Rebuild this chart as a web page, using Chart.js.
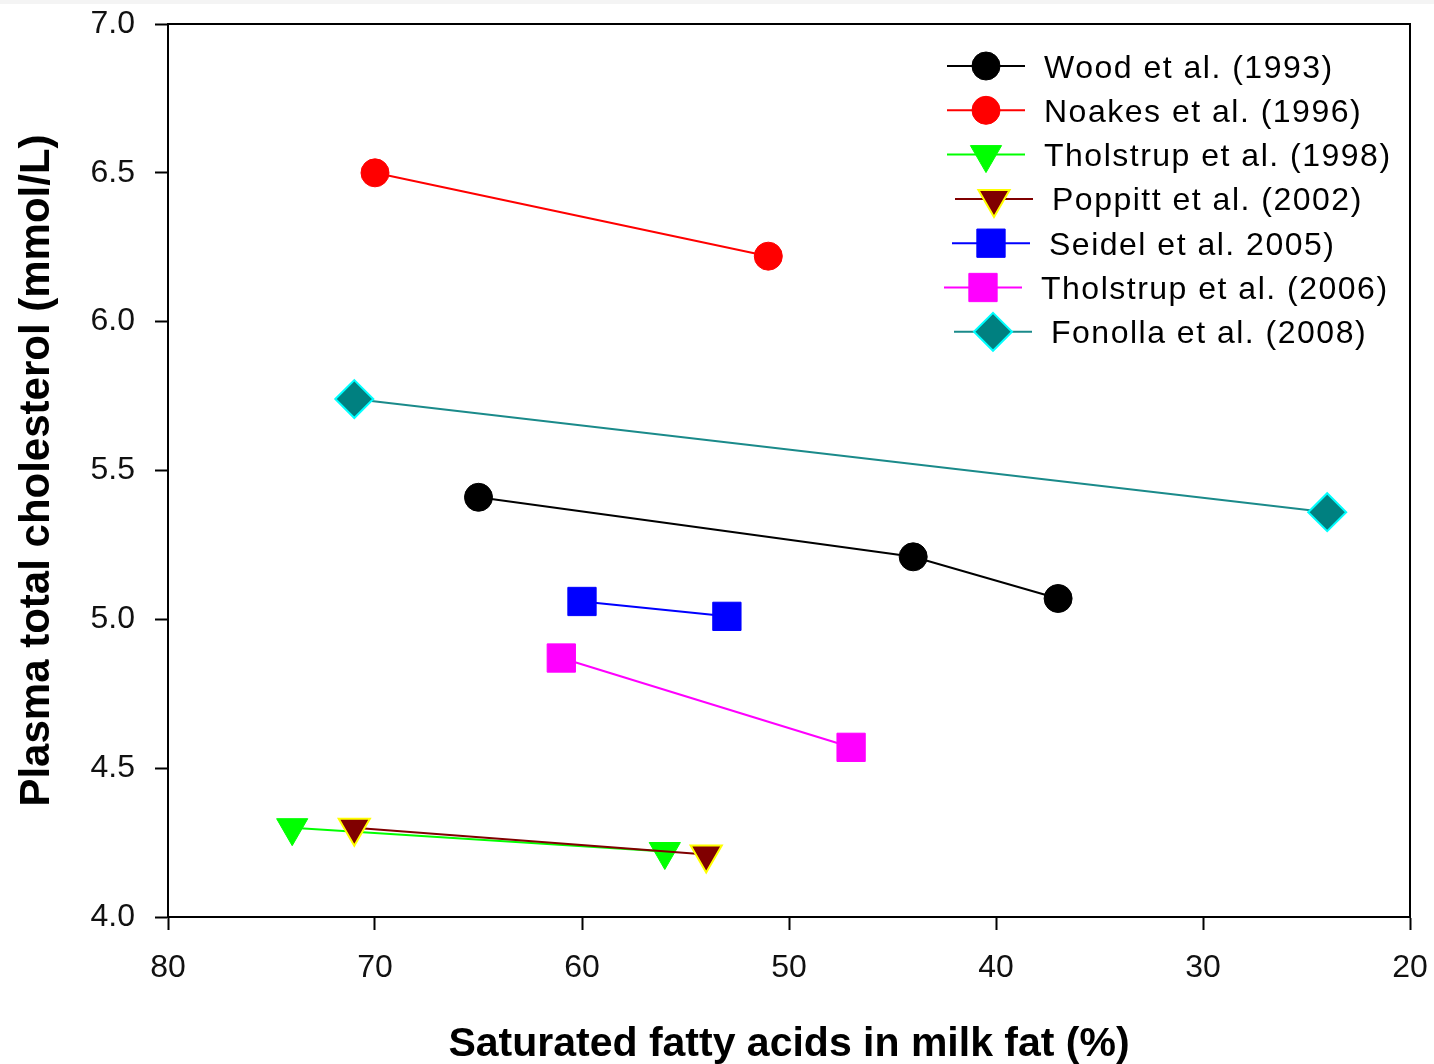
<!DOCTYPE html>
<html>
<head>
<meta charset="utf-8">
<script src="https://cdn.jsdelivr.net/npm/chart.js@4.4.1/dist/chart.umd.min.js"></script>
<style>
  body { margin: 0; background: #fff; }
</style>
</head>
<body>
<canvas id="chart" width="1434" height="1064"></canvas>
<script>
const FONT = 'Arial, "Liberation Sans", sans-serif'

const studies = [
    'Wood et al. (1993)',
    'Noakes et al. (1996)',
    'Tholstrup et al. (1998)',
    'Poppitt et al. (2002)',
    'Seidel et al. 2005)',
    'Tholstrup et al. (2006)',
    'Fonolla et al. (2008)'
]

// saturated fatty acids (%) and plasma total cholesterol (mmol/L) per study
const woodSfa = [65, 44, 37]
const woodChol = [5.41, 5.21, 5.07]
const noakesSfa = [70, 51]
const noakesChol = [6.50, 6.22]
const tholstrup98Sfa = [74, 56]
const tholstrup98Chol = [4.30, 4.22]
const poppittSfa = [71, 54]
const poppittChol = [4.30, 4.21]
const seidelSfa = [60, 53]
const seidelChol = [5.06, 5.01]
const tholstrup06Sfa = [61, 47]
const tholstrup06Chol = [4.87, 4.57]
const fonollaSfa = [71, 24]
const fonollaChol = [5.74, 5.36]

const xTicks = [80, 70, 60, 50, 40, 30, 20]
const yTicks = [4.0, 4.5, 5.0, 5.5, 6.0, 6.5, 7.0]

const toPoints = (xs, ys) => xs.map((x, i) => ({ x, y: ys[i] }))

const styles = [
    { line: '#000000', fill: '#000000', border: '#000000', pointStyle: 'circle', radius: 14, rotation: 0, borderWidth: 1 },
    { line: '#ff0000', fill: '#ff0000', border: '#ff0000', pointStyle: 'circle', radius: 14, rotation: 0, borderWidth: 1 },
    { line: '#00ff00', fill: '#00ff00', border: '#00ff00', pointStyle: 'triangle', radius: 18, rotation: 180, borderWidth: 1 },
    { line: '#800000', fill: '#800000', border: '#ffff00', pointStyle: 'triangle', radius: 18, rotation: 180, borderWidth: 2 },
    { line: '#0000ff', fill: '#0000ff', border: '#0000ff', pointStyle: 'rect', radius: 20, rotation: 0, borderWidth: 1 },
    { line: '#ff00ff', fill: '#ff00ff', border: '#ff00ff', pointStyle: 'rect', radius: 20, rotation: 0, borderWidth: 1 },
    { line: '#1a8a8a', fill: '#008080', border: '#00ffff', pointStyle: 'rectRot', radius: 19, rotation: 0, borderWidth: 2 }
]

const seriesData = [
    toPoints(woodSfa, woodChol),
    toPoints(noakesSfa, noakesChol),
    toPoints(tholstrup98Sfa, tholstrup98Chol),
    toPoints(poppittSfa, poppittChol),
    toPoints(seidelSfa, seidelChol),
    toPoints(tholstrup06Sfa, tholstrup06Chol),
    toPoints(fonollaSfa, fonollaChol)
]

const datasets = studies.map((label, i) => {
    const s = styles[i]
    return {
        label,
        data: seriesData[i],
        order: studies.length - i,
        showLine: true,
        borderColor: s.line,
        borderWidth: 2,
        tension: 0,
        pointStyle: s.pointStyle,
        pointRotation: s.rotation,
        pointRadius: s.radius,
        pointHoverRadius: s.radius,
        pointBackgroundColor: s.fill,
        pointBorderColor: s.border,
        pointBorderWidth: s.borderWidth
    }
})

// legend drawn inside the plot, line + marker + label like the original
const legendShift = [0, 0, 0, 8, 5, -3, 7]
const legendPlugin = {
    id: 'sampleLegend',
    afterDatasetsDraw(chart) {
        const ctx = chart.ctx
        ctx.save()
        studies.forEach((label, i) => {
            const s = styles[i]
            const y = 66 + i * 44.3
            const x0 = 947 + legendShift[i]
            ctx.strokeStyle = s.line
            ctx.lineWidth = 2
            ctx.beginPath()
            ctx.moveTo(x0, y)
            ctx.lineTo(x0 + 78, y)
            ctx.stroke()
            ctx.fillStyle = s.fill
            ctx.strokeStyle = s.border
            ctx.lineWidth = s.borderWidth
            Chart.helpers.drawPoint(ctx, {
                pointStyle: s.pointStyle,
                rotation: s.rotation,
                radius: s.radius,
                borderWidth: s.borderWidth
            }, x0 + 39, y)
            ctx.fillStyle = '#000'
            ctx.font = '32px ' + FONT
            ctx.letterSpacing = '1.5px'
            ctx.textBaseline = 'alphabetic'
            ctx.textAlign = 'left'
            ctx.fillText(label, x0 + 97, y + 11.5)
        })
        ctx.restore()
    }
}

const framePlugin = {
    id: 'frame',
    beforeDraw(chart) {
        const ctx = chart.ctx
        ctx.save()
        ctx.fillStyle = '#f4f4f4'
        ctx.fillRect(0, 0, chart.width, 4)
        ctx.restore()
    },
    afterDraw(chart) {
        const { left, right, top, bottom } = chart.chartArea
        const ctx = chart.ctx
        ctx.save()
        ctx.strokeStyle = '#000'
        ctx.lineWidth = 2
        ctx.beginPath()
        ctx.moveTo(left, top)
        ctx.lineTo(right, top)
        ctx.lineTo(right, bottom)
        ctx.stroke()
        ctx.restore()
    }
}

Chart.defaults.font.family = FONT

new Chart(document.querySelector('#chart'), {
    type: 'scatter',
    data: { datasets },
    plugins: [framePlugin, legendPlugin],
    options: {
        responsive: false,
        animation: false,
        events: [],
        layout: { padding: { top: 24, right: 24, left: 0, bottom: 0 } },
        plugins: {
            legend: { display: false },
            tooltip: { enabled: false }
        },
        scales: {
            x: {
                type: 'linear',
                reverse: true,
                min: 20,
                max: 80,
                afterBuildTicks: axis => { axis.ticks = xTicks.map(v => ({ value: v })) },
                afterFit: axis => {
                    axis.height = 147
                    axis.paddingLeft = 0
                    axis.paddingRight = 0
                },
                grid: { drawOnChartArea: false, tickLength: 13, tickColor: '#000', tickWidth: 2 },
                border: { color: '#000', width: 2 },
                ticks: { color: '#111', font: { size: 32 }, padding: 19, maxRotation: 0 },
                title: {
                    display: true,
                    text: 'Saturated fatty acids in milk fat (%)',
                    color: '#000',
                    font: { size: 41, weight: 'bold' },
                    padding: { top: 0, bottom: -5 }
                }
            },
            y: {
                type: 'linear',
                min: 4,
                max: 7,
                afterBuildTicks: axis => { axis.ticks = yTicks.map(v => ({ value: v })) },
                afterFit: axis => {
                    axis.width = 168
                    axis.paddingTop = 0
                    axis.paddingBottom = 0
                },
                grid: { drawOnChartArea: false, tickLength: 13, tickColor: '#000', tickWidth: 2 },
                border: { color: '#000', width: 2 },
                ticks: { color: '#111', font: { size: 32 }, padding: 20, callback: v => v.toFixed(1) },
                title: {
                    display: true,
                    text: 'Plasma total cholesterol (mmol/L)',
                    color: '#000',
                    font: { size: 42, weight: 'bold' },
                    padding: { top: 12, bottom: 0 }
                }
            }
        }
    }
})
</script>
</body>
</html>
